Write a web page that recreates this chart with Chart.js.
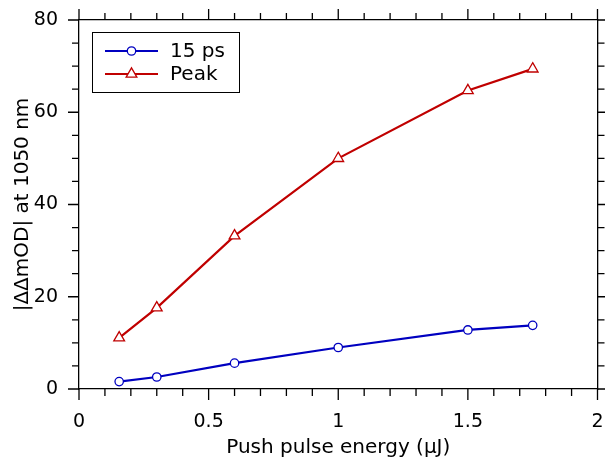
<!DOCTYPE html>
<html>
<head>
<meta charset="utf-8">
<script src="https://cdn.jsdelivr.net/npm/chart.js@4"></script>
<style>
  body { margin: 0; background: #fff; }
  canvas { display: block; }
</style>
</head>
<body>
<canvas id="myChart" width="605" height="460"></canvas>
<script>
// pulse energy (uJ) and |ddmOD|
var energy = [0.155, 0.3, 0.6, 1.0, 1.5, 1.75];
var od15ps = [1.6, 2.6, 5.6, 9.0, 12.8, 13.8];
var odPeak = [11.1, 17.6, 33.2, 50.0, 64.7, 69.4];
var seriesNames = ['15 ps', 'Peak'];
var xTicks = [0, 0.5, 1, 1.5, 2];
var yTicks = [0, 20, 40, 60, 80];

var FONT = 'DejaVu Sans';
var blue = '#0000c0';
var red = '#c00000';

function toPoints(xs, ys) {
  var pts = [];
  for (var i = 0; i < xs.length; i++) pts.push({ x: xs[i], y: ys[i] });
  return pts;
}

function noPad(s) {
  s.paddingLeft = 0; s.paddingRight = 0; s.paddingTop = 0; s.paddingBottom = 0;
}

// outward ticks on all four sides, major + minor
var tickPlugin = {
  id: 'ticks',
  afterDraw: function (chart) {
    var ctx = chart.ctx;
    var a = chart.chartArea;
    var xs = chart.scales.x, ys = chart.scales.y;
    ctx.save();
    ctx.strokeStyle = '#000';
    ctx.lineWidth = 1.3;
    ctx.beginPath();
    for (var i = 0; i <= 20; i++) {
      var v = i / 10;
      var len = (i % 5 === 0) ? 11 : 7;
      var px = xs.getPixelForValue(v);
      ctx.moveTo(px, a.bottom); ctx.lineTo(px, a.bottom + len);
      ctx.moveTo(px, a.top); ctx.lineTo(px, a.top - len);
    }
    for (var j = 0; j <= 16; j++) {
      var w = j * 5;
      var l2 = (j % 4 === 0) ? 11 : 7;
      var py = ys.getPixelForValue(w);
      ctx.moveTo(a.left, py); ctx.lineTo(a.left - l2, py);
      ctx.moveTo(a.right, py); ctx.lineTo(a.right + l2, py);
    }
    ctx.stroke();
    ctx.restore();
  }
};

// legend box inside the plot, like the original
var legendPlugin = {
  id: 'boxLegend',
  afterDraw: function (chart) {
    var ctx = chart.ctx;
    var a = chart.chartArea;
    var bx = a.left + 13, by = a.top + 12, bw = 147, bh = 60;
    ctx.save();
    ctx.fillStyle = '#fff';
    ctx.fillRect(bx, by, bw, bh);
    ctx.strokeStyle = '#000';
    ctx.lineWidth = 1;
    ctx.strokeRect(bx + 0.5, by + 0.5, bw, bh);
    chart.data.datasets.forEach(function (ds, i) {
      var y = by + 19 + i * 23;
      ctx.strokeStyle = ds.borderColor;
      ctx.lineWidth = ds.borderWidth;
      ctx.beginPath();
      ctx.moveTo(bx + 13, y); ctx.lineTo(bx + 66, y);
      ctx.stroke();
      ctx.fillStyle = '#fff';
      ctx.strokeStyle = ds.pointBorderColor;
      ctx.lineWidth = ds.pointBorderWidth;
      Chart.helpers.drawPoint(ctx, { pointStyle: ds.pointStyle, radius: ds.pointRadius, rotation: 0, borderWidth: ds.pointBorderWidth }, bx + 39.5, y);
      ctx.fillStyle = '#000';
      ctx.font = '20px "' + FONT + '"';
      ctx.textBaseline = 'middle';
      ctx.fillText(ds.label, bx + 78, y + 1);
    });
    ctx.restore();
  }
};

var ctx = document.getElementById('myChart').getContext('2d');
var myChart = new Chart(ctx, {
  type: 'line',
  data: {
    datasets: [{
      label: seriesNames[0],
      data: toPoints(energy, od15ps),
      borderColor: blue,
      borderWidth: 2.2,
      pointStyle: 'circle',
      pointRadius: 4.2,
      pointBorderColor: blue,
      pointBackgroundColor: '#fff',
      pointBorderWidth: 1.3,
      tension: 0
    }, {
      label: seriesNames[1],
      data: toPoints(energy, odPeak),
      borderColor: red,
      borderWidth: 2.2,
      pointStyle: 'triangle',
      pointRadius: 6.2,
      pointBorderColor: red,
      pointBackgroundColor: '#fff',
      pointBorderWidth: 1.3,
      tension: 0
    }]
  },
  options: {
    responsive: false,
    animation: false,
    layout: { padding: 0 },
    plugins: { legend: { display: false }, tooltip: { enabled: false } },
    scales: {
      x: {
        type: 'linear', position: 'bottom', min: 0, max: 2,
        afterBuildTicks: function (s) { s.ticks = xTicks.map(function (v) { return { value: v }; }); },
        afterFit: function (s) { s.height = 71; noPad(s); },
        grid: { display: false, drawTicks: false },
        border: { display: true, color: '#000', width: 1.3 },
        ticks: { color: '#000', padding: 22, font: { family: FONT, size: 19 }, maxRotation: 0,
          callback: function (v) { return String(v); } },
        title: { display: true, text: 'Push pulse energy (μJ)', color: '#000', font: { family: FONT, size: 20 }, padding: { top: 0, bottom: 0 } }
      },
      y: {
        type: 'linear', position: 'left', min: 0, max: 80,
        afterBuildTicks: function (s) { s.ticks = yTicks.map(function (v) { return { value: v }; }); },
        afterFit: function (s) { s.width = 79; noPad(s); },
        grid: { display: false, drawTicks: false },
        border: { display: true, color: '#000', width: 1.3 },
        ticks: { color: '#000', padding: 21, font: { family: FONT, size: 19 },
          callback: function (v) { return String(v); } },
        title: { display: true, text: '|ΔΔmOD| at 1050 nm', color: '#000', font: { family: FONT, size: 20 }, padding: { top: 11, bottom: 0 } }
      },
      x2: {
        type: 'linear', position: 'top', min: 0, max: 2,
        afterFit: function (s) { s.height = 20; noPad(s); },
        grid: { display: false, drawTicks: false },
        border: { display: true, color: '#000', width: 1.3 },
        ticks: { display: false }
      },
      y2: {
        type: 'linear', position: 'right', min: 0, max: 80,
        afterFit: function (s) { s.width = 5; noPad(s); },
        grid: { display: false, drawTicks: false },
        border: { display: true, color: '#000', width: 1.3 },
        ticks: { display: false }
      }
    }
  },
  plugins: [tickPlugin, legendPlugin]
});
</script>
</body>
</html>
